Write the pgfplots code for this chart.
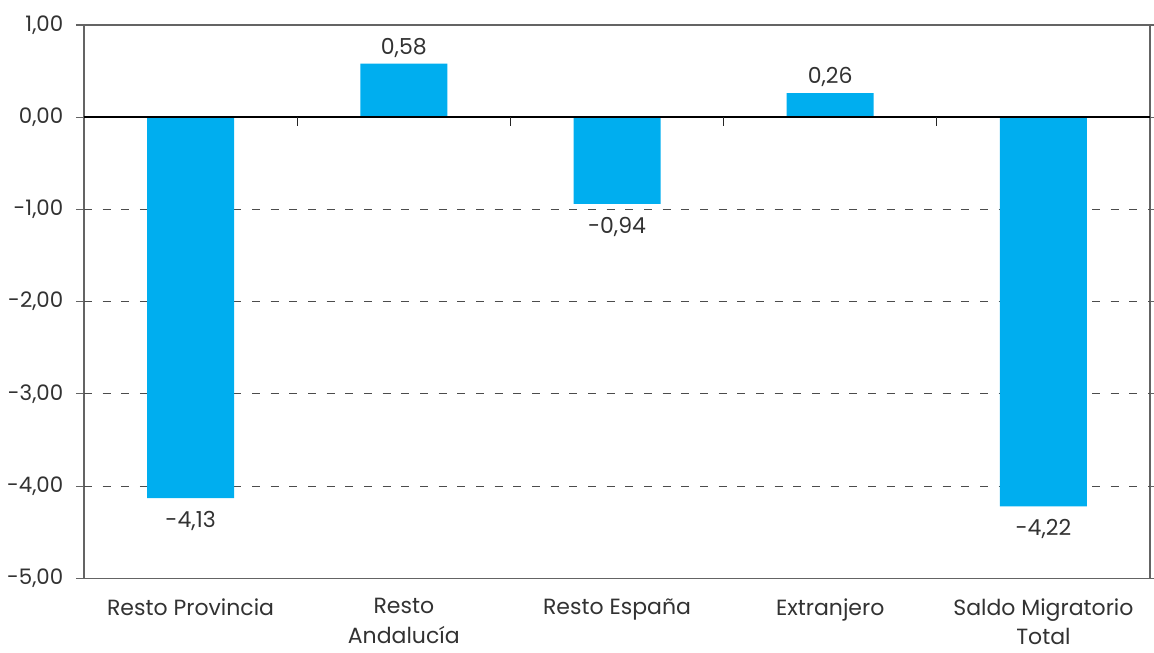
\documentclass[border=0pt]{standalone}
\usepackage{pgfplots}
\pgfplotsset{compat=1.18}
\usepackage{fontspec}
\setmainfont{Poppins}
\definecolor{barblue}{RGB}{0,174,239}
\definecolor{txt}{RGB}{50,50,50}
\definecolor{frame}{RGB}{100,100,100}
\begin{document}
\begin{tikzpicture}[x=1pt,y=1pt]
\useasboundingbox (0,0) rectangle (865.5pt,489.75pt);
\begin{axis}[
  at={(63pt,56pt)}, anchor=south west,
  width=799.5pt, height=415pt, scale only axis,
  xmin=-0.5, xmax=4.5, ymin=-5, ymax=1,
  xtick={0,1,2,3,4},
  xticklabels={Resto Provincia,Resto\\Andalucía,Resto España,Extranjero,Saldo Migratorio\\Total},
  xticklabel style={align=center, font=\fontsize{16.5}{22}\selectfont, text=txt, inner sep=1pt, yshift=-8pt},
  major x tick style={draw=none},
  ytick={-5,-4,...,1},
  yticklabel style={font=\fontsize{16}{18}\selectfont, text=txt, xshift=-6pt},
  /pgf/number format/.cd, fixed, fixed zerofill, precision=2, use comma, assume math mode=true,
  /pgfplots/.cd,
  tick align=outside, major tick length=6pt,
  ytick style={draw=frame, line width=0.8pt},
  axis line style={draw=frame, line width=1.2pt},
  extra y ticks={-4,-3,-2,-1},
  extra y tick labels={},
  extra y tick style={ymajorgrids=true, major grid style={draw=black!70, dash pattern=on 6pt off 8pt, line width=0.7pt}, major tick length=0pt},
  ybar, bar width=65.25pt, bar shift=0pt,
  nodes near coords,
  nodes near coords align={vertical},
  visualization depends on={rawy \as \ry},
  every node near coord/.append style={font=\fontsize{16.5}{18}\selectfont, text=txt, inner sep=4.5pt, yshift={\ry<0 ? -5 : 0}, /pgf/number format/.cd, fixed, fixed zerofill, precision=2, use comma, assume math mode=true},
  clip=false,
]
\addplot[fill=barblue, draw=none] coordinates {(0,-4.13) (1,0.58) (2,-0.94) (3,0.26) (4,-4.22)};
\draw[black, line width=1.1pt] (axis cs:-0.5,0) -- (axis cs:4.5,0);
\pgfplotsinvokeforeach{0.5,1.5,2.5,3.5}{
  \draw[black!85, line width=0.8pt] (axis cs:#1,0) -- ([yshift=-6.5pt]axis cs:#1,0);
}
\end{axis}
\end{tikzpicture}
\end{document}
